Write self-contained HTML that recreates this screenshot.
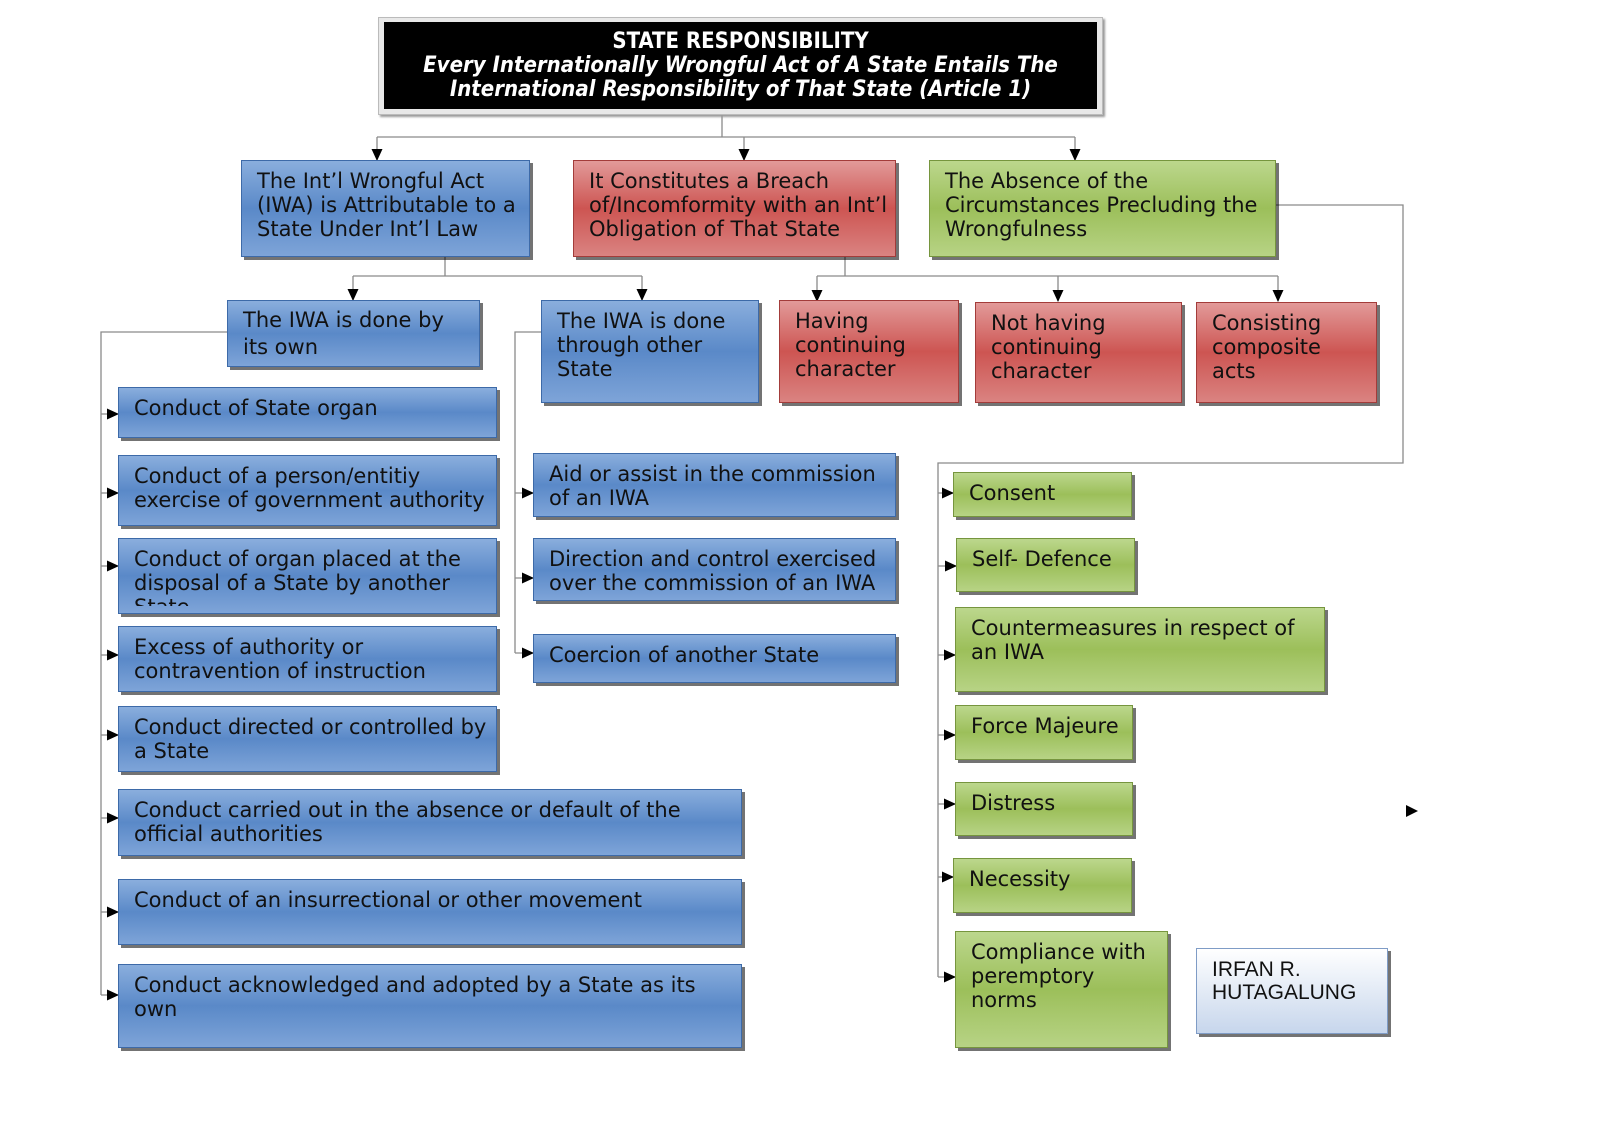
<!DOCTYPE html>
<html><head><meta charset="utf-8"><style>
html,body{margin:0;padding:0;background:#fff;}
body{width:1600px;height:1130px;position:relative;overflow:hidden;font-family:"DejaVu Sans","Liberation Sans",sans-serif;}
.b{position:absolute;box-sizing:border-box;padding:8px 0 0 15px;font-size:21px;line-height:24px;color:#111;overflow:hidden;white-space:nowrap;box-shadow:3px 3px 0 rgba(0,0,0,0.55);}
.bl{background:linear-gradient(#8aaedd 0%,#5a89c8 50%,#7ea4d8 100%);border:1px solid #3d6aa8;}
.rd{background:linear-gradient(#e29a99 0%,#cd5552 50%,#da8381 100%);border:1px solid #a33c3a;}
.gr{background:linear-gradient(#bcd78d 0%,#9cbf5a 50%,#b7d385 100%);border:1px solid #76953e;}
.wh{background:linear-gradient(#ffffff 0%,#c7d6ec 100%);border:1px solid #7f9cc6;font-family:"Liberation Sans",sans-serif;font-size:21px;line-height:23px;}
</style></head><body>
<svg width="1600" height="1130" style="position:absolute;left:0;top:0">
<defs><marker id="a" markerWidth="12" markerHeight="12" refX="11" refY="6" orient="auto" markerUnits="userSpaceOnUse"><path d="M0,0.5 L12,6 L0,11.5z" fill="#000"/></marker></defs>
<g stroke="#8a8a8a" stroke-width="1.3" fill="none">
<path d="M722,113V137M377,137H1075"/>
<path d="M845,257V276M817,276H1278"/>
<path d="M445,257V276M353,276H642"/>
<path d="M227,332H101V995"/>
<path d="M541,332H515V653"/>
<path d="M1276,205H1403V463H938V977"/>
</g>
<g stroke="#8a8a8a" stroke-width="1.3" fill="none" marker-end="url(#a)">
<path d="M377,137V160"/><path d="M744,137V160"/><path d="M1075,137V160"/>
<path d="M353,276V300"/><path d="M642,276V300"/>
<path d="M817,276V301"/><path d="M1058,276V301"/><path d="M1278,276V301"/>
<path d="M101,414H118"/><path d="M101,493H118"/><path d="M101,566H118"/><path d="M101,655H118"/><path d="M101,735H118"/><path d="M101,818H118"/><path d="M101,912H118"/><path d="M101,995H118"/>
<path d="M515,493H533"/><path d="M515,578H533"/><path d="M515,653H533"/>
<path d="M938,493H953"/><path d="M938,566H956"/><path d="M938,655H955"/><path d="M938,735H955"/><path d="M938,804H955"/><path d="M938,877H953"/><path d="M938,977H955"/>
</g>
<path d="M1406,805L1418,811L1406,817z" fill="#000"/>
</svg>

<div style="position:absolute;left:378px;top:17px;width:725px;height:98px;background:#e8e8e8;border:1px solid #bbb;box-sizing:border-box;box-shadow:2px 2px 2px #999"></div>
<div style="position:absolute;left:384px;top:22px;width:713px;height:87px;background:#000;color:#fff;text-align:center;font-family:'DejaVu Sans Condensed','DejaVu Sans',sans-serif;font-weight:bold;font-size:22px;line-height:24px;padding-top:8px;box-sizing:border-box;white-space:nowrap">STATE RESPONSIBILITY<br><i>Every Internationally Wrongful Act of A State Entails The<br>International Responsibility of That State (Article 1)</i></div>

<div class="b bl" style="left:241px;top:160px;width:289px;height:97px">The Int’l Wrongful Act<br>(IWA) is Attributable to a<br>State Under Int’l Law</div>
<div class="b rd" style="left:573px;top:160px;width:323px;height:97px">It Constitutes a Breach<br>of/Incomformity with an Int’l<br>Obligation of That State</div>
<div class="b gr" style="left:929px;top:160px;width:347px;height:97px">The Absence of the<br>Circumstances Precluding the<br>Wrongfulness</div>

<div class="b bl" style="left:227px;top:300px;width:253px;height:67px;line-height:27px;padding-top:6px">The IWA is done by<br>its own</div>
<div class="b bl" style="left:541px;top:300px;width:218px;height:103px">The IWA is done<br>through other<br>State</div>
<div class="b rd" style="left:779px;top:300px;width:180px;height:103px">Having<br>continuing<br>character</div>
<div class="b rd" style="left:975px;top:302px;width:207px;height:101px">Not having<br>continuing<br>character</div>
<div class="b rd" style="left:1196px;top:302px;width:181px;height:101px">Consisting<br>composite<br>acts</div>

<div class="b bl" style="left:118px;top:387px;width:379px;height:51px">Conduct of State organ</div>
<div class="b bl" style="left:118px;top:455px;width:379px;height:71px">Conduct of a person/entitiy<br>exercise of government authority</div>
<div class="b bl" style="left:118px;top:538px;width:379px;height:76px"><div style="height:59px;overflow:hidden">Conduct of organ placed at the<br>disposal of a State by another<br>State</div></div>
<div class="b bl" style="left:118px;top:626px;width:379px;height:66px">Excess of authority or<br>contravention of instruction</div>
<div class="b bl" style="left:118px;top:706px;width:379px;height:66px">Conduct directed or controlled by<br>a State</div>
<div class="b bl" style="left:118px;top:789px;width:624px;height:67px">Conduct carried out in the absence or default of the<br>official authorities</div>
<div class="b bl" style="left:118px;top:879px;width:624px;height:66px">Conduct of an insurrectional or other movement</div>
<div class="b bl" style="left:118px;top:964px;width:624px;height:84px">Conduct acknowledged and adopted by a State as its<br>own</div>

<div class="b bl" style="left:533px;top:453px;width:363px;height:64px">Aid or assist in the commission<br>of an IWA</div>
<div class="b bl" style="left:533px;top:538px;width:363px;height:63px">Direction and control exercised<br>over the commission of an IWA</div>
<div class="b bl" style="left:533px;top:634px;width:363px;height:49px">Coercion of another State</div>

<div class="b gr" style="left:953px;top:472px;width:179px;height:45px">Consent</div>
<div class="b gr" style="left:956px;top:538px;width:179px;height:54px">Self- Defence</div>
<div class="b gr" style="left:955px;top:607px;width:370px;height:85px">Countermeasures in respect of<br>an IWA</div>
<div class="b gr" style="left:955px;top:705px;width:178px;height:55px">Force Majeure</div>
<div class="b gr" style="left:955px;top:782px;width:178px;height:54px">Distress</div>
<div class="b gr" style="left:953px;top:858px;width:179px;height:55px">Necessity</div>
<div class="b gr" style="left:955px;top:931px;width:213px;height:117px">Compliance with<br>peremptory<br>norms</div>

<div class="b wh" style="left:1196px;top:948px;width:192px;height:86px;padding-top:9px">IRFAN R.<br>HUTAGALUNG</div>
</body></html>
